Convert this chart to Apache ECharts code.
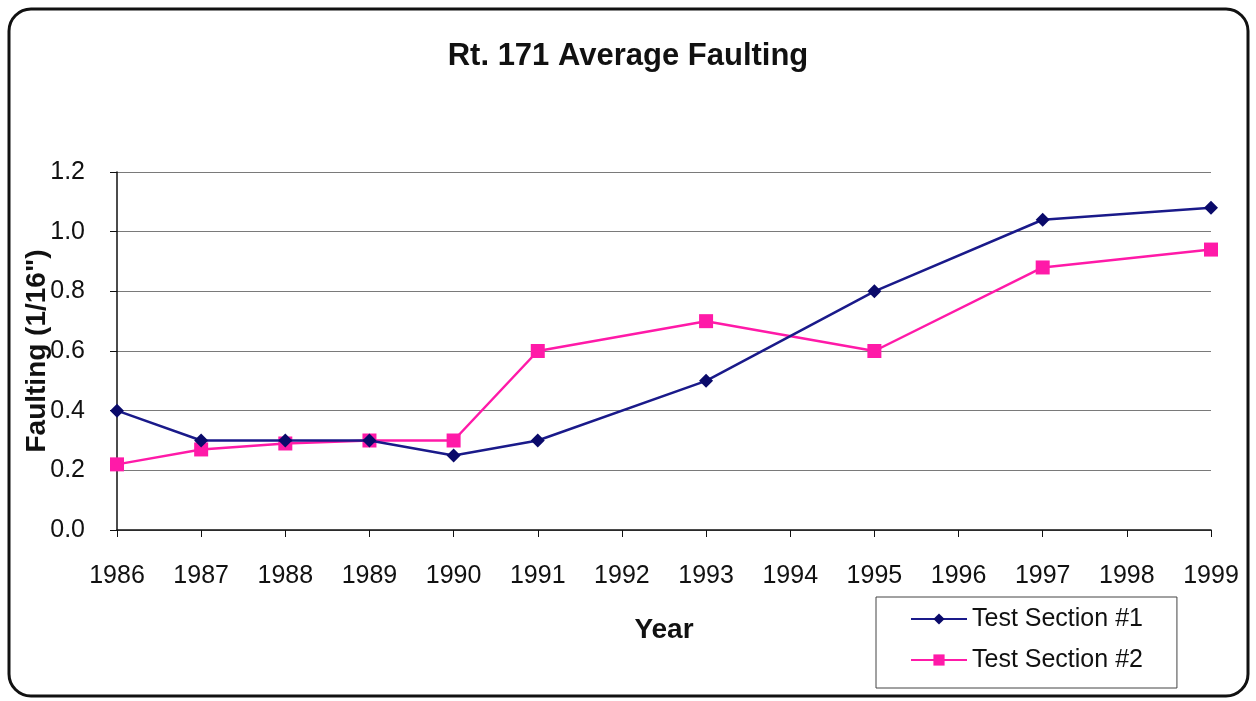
<!DOCTYPE html>
<html>
<head>
<meta charset="utf-8">
<script src="https://cdn.jsdelivr.net/npm/echarts@6/dist/echarts.min.js"></script>
<style>
  html, body { margin: 0; padding: 0; background: #fff; }
  #chart { width: 1256px; height: 701px; }
</style>
</head>
<body>
<div id="chart"></div>
<script>
// years on the x axis (even years after 1991 have no reading)
const years = ['1986', '1987', '1988', '1989', '1990', '1991', '1992', '1993', '1994', '1995', '1996', '1997', '1998', '1999']
const section1 = [0.40, 0.30, 0.30, 0.30, 0.25, 0.30, null, 0.50, null, 0.80, null, 1.04, null, 1.08]
const section2 = [0.22, 0.27, 0.29, 0.30, 0.30, 0.60, null, 0.70, null, 0.60, null, 0.88, null, 0.94]

const font = 'Liberation Sans, Arial, sans-serif'
const chart = echarts.init(document.getElementById('chart'))

chart.setOption({
  backgroundColor: '#fff',
  animation: false,
  textStyle: { fontFamily: font },
  graphic: [
    {
      type: 'rect',
      shape: { x: 9, y: 9, width: 1239, height: 687, r: 22 },
      style: { fill: 'none', stroke: '#111', lineWidth: 3 },
      z: -1
    }
  ],
  title: {
    text: 'Rt. 171 Average Faulting',
    left: 'center',
    top: 36,
    textStyle: { fontSize: 31, fontWeight: 'bold', color: '#111', fontFamily: font }
  },
  grid: { left: 117, right: 45, top: 172, bottom: 171 },
  legend: {
    orient: 'vertical',
    left: 876,
    top: 597,
    padding: [8, 34, 14, 34],
    itemWidth: 56,
    itemHeight: 14,
    itemGap: 13,
    borderColor: '#444',
    borderWidth: 1,
    textStyle: { fontSize: 25, lineHeight: 28, color: '#111', fontFamily: font },
    data: ['Test Section #1', 'Test Section #2']
  },
  xAxis: {
    type: 'category',
    data: years,
    boundaryGap: false,
    name: 'Year',
    nameLocation: 'middle',
    nameGap: 86,
    nameTextStyle: { fontSize: 28, fontWeight: 'bold', color: '#111' },
    axisLine: { lineStyle: { color: '#111', width: 1.5 } },
    axisTick: { show: true, length: 7, alignWithLabel: true, lineStyle: { color: '#111' } },
    axisLabel: { fontSize: 25, color: '#111', margin: 34, interval: 0 },
    splitLine: { show: false }
  },
  yAxis: {
    type: 'value',
    min: 0,
    max: 1.2,
    interval: 0.2,
    name: 'Faulting (1/16")',
    nameLocation: 'middle',
    nameGap: 66,
    nameMoveOverlap: false,
    nameTextStyle: { fontSize: 28, fontWeight: 'bold', color: '#111' },
    axisLine: { show: true, lineStyle: { color: '#111', width: 1.5 } },
    axisTick: { show: true, length: 7, lineStyle: { color: '#111' } },
    axisLabel: { fontSize: 25, color: '#111', margin: 32, formatter: v => v.toFixed(1) },
    splitLine: { show: true, lineStyle: { color: '#7a7a7a', width: 1.2 } }
  },
  series: [
    {
      name: 'Test Section #1',
      type: 'line',
      data: section1,
      connectNulls: true,
      symbol: 'diamond',
      symbolSize: 14,
      color: '#0a0a78',
      lineStyle: { width: 2.5, color: '#1a1a8a' },
      itemStyle: { color: '#0a0a6a' },
      z: 3
    },
    {
      name: 'Test Section #2',
      type: 'line',
      data: section2,
      connectNulls: true,
      symbol: 'rect',
      symbolSize: 14,
      color: '#ff1aa8',
      lineStyle: { width: 2.5, color: '#ff1aa8' },
      itemStyle: { color: '#ff1aa8' },
      z: 2
    }
  ]
})
</script>
</body>
</html>
